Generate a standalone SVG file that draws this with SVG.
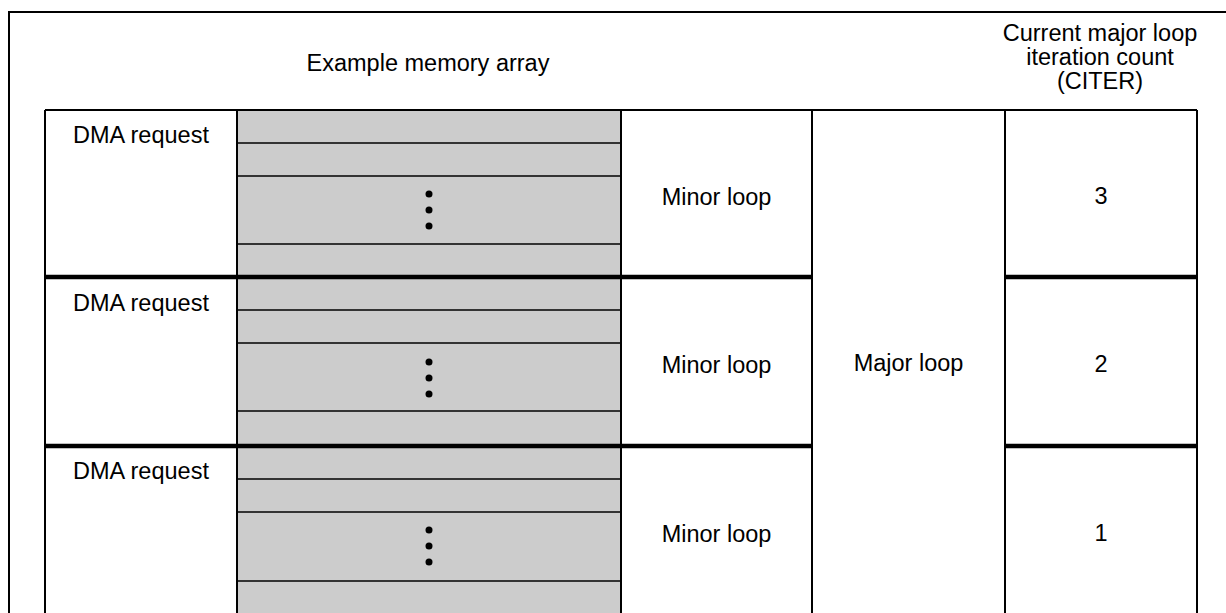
<svg xmlns="http://www.w3.org/2000/svg" width="1226" height="613" viewBox="0 0 1226 613">
<style>
text{font-family:"Liberation Sans",Arial,sans-serif;font-size:23.5px;fill:#000;text-anchor:middle}
.thin{stroke:#000;stroke-width:2;fill:none}
.sub{stroke:#000;stroke-width:1.7;fill:none}
.thick{stroke:#000;stroke-width:4.5;fill:none}
.dot{fill:#000}
</style>
<rect width="1226" height="613" fill="#fff"/>
<g id="frame">
<path class="thin" d="M9,613 V12 H1226"/>
</g>
<g id="headers">
<text x="428" y="71">Example memory array</text>
<text x="1100" y="41">Current major loop</text>
<text x="1100" y="65">iteration count</text>
<text x="1100" y="89">(CITER)</text>
</g>
<g id="memory-array">
<rect x="237" y="110" width="384" height="503" fill="#cccccc"/>
<path class="sub" d="M237,143H621M237,176H621M237,244H621M237,310H621M237,343H621M237,411H621M237,479H621M237,512H621M237,581H621"/>
<circle class="dot" cx="429" cy="194" r="3.5"/><circle class="dot" cx="429" cy="210" r="3.5"/><circle class="dot" cx="429" cy="226" r="3.5"/>
<circle class="dot" cx="429" cy="362" r="3.5"/><circle class="dot" cx="429" cy="378" r="3.5"/><circle class="dot" cx="429" cy="394" r="3.5"/>
<circle class="dot" cx="429" cy="530" r="3.5"/><circle class="dot" cx="429" cy="546" r="3.5"/><circle class="dot" cx="429" cy="562" r="3.5"/>
</g>
<g id="grid">
<path class="thin" d="M45,110H1197M45,110V613M237,110V613M621,110V613M812,110V613M1005,110V613M1197,110V613"/>
<path class="thick" d="M45,277H812M1005,277H1197M45,446H812M1005,446H1197"/>
</g>
<g id="row1">
<text x="141" y="143">DMA request</text>
<text x="716.5" y="205">Minor loop</text>
<text x="1101" y="204">3</text>
</g>
<g id="row2">
<text x="141" y="311">DMA request</text>
<text x="716.5" y="373">Minor loop</text>
<text x="1101" y="372">2</text>
</g>
<g id="row3">
<text x="141" y="479">DMA request</text>
<text x="716.5" y="542">Minor loop</text>
<text x="1101" y="541">1</text>
</g>
<g id="major-loop">
<text x="908.5" y="371">Major loop</text>
</g>
</svg>
